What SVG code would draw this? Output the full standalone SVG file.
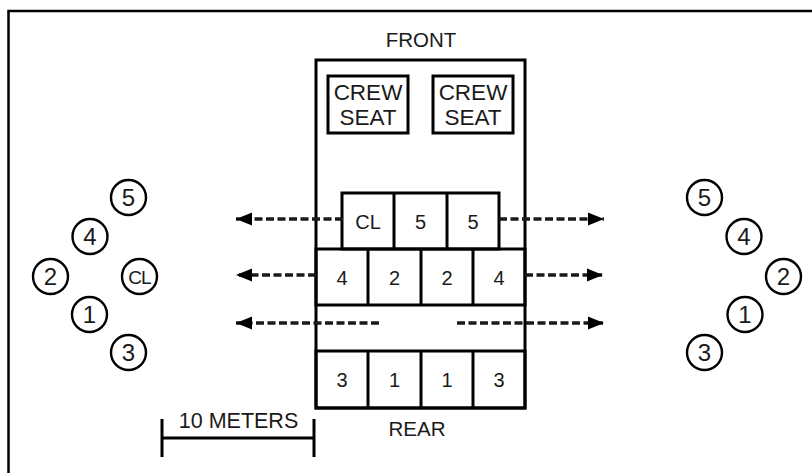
<svg xmlns="http://www.w3.org/2000/svg" width="812" height="473" viewBox="0 0 812 473">
<defs>
<style>
.ln{fill:none;stroke:#000;stroke-width:3}
.c{fill:#fff;stroke:#000;stroke-width:2.4}
.t{font-family:"Liberation Sans",Arial,sans-serif;fill:#1a1a1a;text-anchor:middle}
.dash{fill:none;stroke:#1a1a1a;stroke-width:3.6;stroke-dasharray:8 3.5}
</style>
<marker id="ah" markerUnits="userSpaceOnUse" markerWidth="18" markerHeight="16" refX="16" refY="8" orient="auto">
<polygon points="0,1.5 16,8 0,14.5" fill="#000"/>
</marker>
</defs>
<rect width="812" height="473" fill="#fff"/>
<path d="M8.5,473 V11 H812" fill="none" stroke="#000" stroke-width="2.5"/>

<g id="vehicle">
<rect class="ln" x="316" y="60" width="209" height="348"/>
<text class="t" x="421" y="47" font-size="20.5">FRONT</text>
<text class="t" x="417" y="436" font-size="20.5">REAR</text>
</g>
<g id="crew-seat-left">
<rect class="ln" x="328" y="76" width="80" height="57"/>
<text class="t" x="368" y="100" font-size="22.5">CREW</text>
<text class="t" x="368" y="125" font-size="22.5">SEAT</text>
</g>
<g id="crew-seat-right">
<rect class="ln" x="433" y="76" width="80" height="57"/>
<text class="t" x="473" y="100" font-size="22.5">CREW</text>
<text class="t" x="473" y="125" font-size="22.5">SEAT</text>
</g>
<g id="row1">
<rect class="ln" x="342" y="193" width="157" height="56"/>
<line class="ln" x1="394" y1="193" x2="394" y2="249"/>
<line class="ln" x1="447" y1="193" x2="447" y2="249"/>
<text class="t" x="368" y="229" font-size="20">CL</text>
<text class="t" x="420.5" y="229" font-size="20">5</text>
<text class="t" x="473" y="229" font-size="20">5</text>
</g>
<g id="row2">
<rect class="ln" x="316" y="249" width="209" height="56"/>
<line class="ln" x1="368" y1="249" x2="368" y2="305"/>
<line class="ln" x1="421" y1="249" x2="421" y2="305"/>
<line class="ln" x1="473" y1="249" x2="473" y2="305"/>
<text class="t" x="342" y="284.5" font-size="20">4</text>
<text class="t" x="394.5" y="284.5" font-size="20">2</text>
<text class="t" x="447" y="284.5" font-size="20">2</text>
<text class="t" x="499" y="284.5" font-size="20">4</text>
</g>
<g id="row3">
<rect class="ln" x="316" y="351" width="209" height="57"/>
<line class="ln" x1="368" y1="351" x2="368" y2="408"/>
<line class="ln" x1="421" y1="351" x2="421" y2="408"/>
<line class="ln" x1="473" y1="351" x2="473" y2="408"/>
<text class="t" x="342" y="387" font-size="20">3</text>
<text class="t" x="394.5" y="387" font-size="20">1</text>
<text class="t" x="447" y="387" font-size="20">1</text>
<text class="t" x="499" y="387" font-size="20">3</text>
</g>

<g id="connectors">
<line class="dash" x1="343" y1="219" x2="236" y2="219" marker-end="url(#ah)"/>
<line class="dash" x1="499" y1="219" x2="604" y2="219" marker-end="url(#ah)"/>
<line class="dash" x1="316" y1="275" x2="236" y2="275" marker-end="url(#ah)"/>
<line class="dash" x1="525" y1="275" x2="603" y2="275" marker-end="url(#ah)"/>
<line class="dash" x1="379" y1="323" x2="236" y2="323" marker-end="url(#ah)"/>
<line class="dash" x1="457" y1="323" x2="604" y2="323" marker-end="url(#ah)"/>
</g>

<g id="left-positions">
<g id="L5"><circle class="c" cx="128.5" cy="197.5" r="17.5"/><text class="t" x="128.5" y="206" font-size="24">5</text></g>
<g id="L4"><circle class="c" cx="90" cy="236.5" r="17.5"/><text class="t" x="90" y="245" font-size="24">4</text></g>
<g id="L2"><circle class="c" cx="50.5" cy="276.5" r="17.5"/><text class="t" x="50.5" y="285" font-size="24">2</text></g>
<g id="LCL"><circle class="c" cx="139.5" cy="276.5" r="17.5"/><text class="t" x="139.5" y="283.5" font-size="19" letter-spacing="-1">CL</text></g>
<g id="L1"><circle class="c" cx="89.5" cy="314.5" r="17.5"/><text class="t" x="89.5" y="323" font-size="24">1</text></g>
<g id="L3"><circle class="c" cx="128.5" cy="352.5" r="17.5"/><text class="t" x="128.5" y="361" font-size="24">3</text></g>
</g>
<g id="right-positions">
<g id="R5"><circle class="c" cx="704.5" cy="197.5" r="17.5"/><text class="t" x="704.5" y="206" font-size="24">5</text></g>
<g id="R4"><circle class="c" cx="744" cy="236.5" r="17.5"/><text class="t" x="744" y="245" font-size="24">4</text></g>
<g id="R2"><circle class="c" cx="783.5" cy="276.5" r="17.5"/><text class="t" x="783.5" y="285" font-size="24">2</text></g>
<g id="R1"><circle class="c" cx="745" cy="314.5" r="17.5"/><text class="t" x="745" y="323" font-size="24">1</text></g>
<g id="R3"><circle class="c" cx="704.5" cy="352.5" r="17.5"/><text class="t" x="704.5" y="361" font-size="24">3</text></g>
</g>

<g id="scale">
<line class="ln" x1="162" y1="438" x2="314" y2="438"/>
<line class="ln" x1="162" y1="419" x2="162" y2="457"/>
<line class="ln" x1="314" y1="419" x2="314" y2="457"/>
<text class="t" x="238.5" y="427.5" font-size="21.5">10 METERS</text>
</g>
</svg>
